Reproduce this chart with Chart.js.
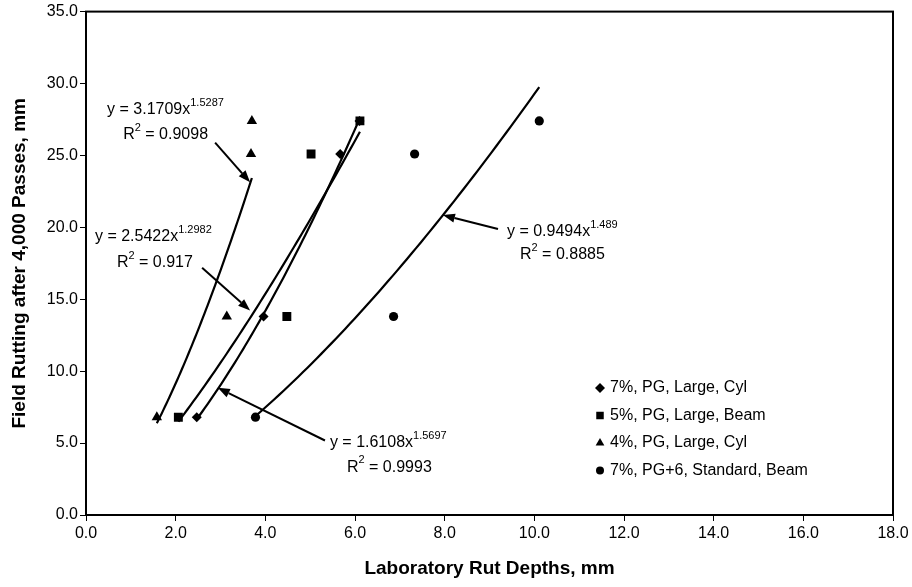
<!DOCTYPE html>
<html><head><meta charset="utf-8">
<script src="https://cdn.jsdelivr.net/npm/chart.js@4/dist/chart.umd.min.js"></script>
<style>html,body{margin:0;padding:0;background:#fff}#wrap{width:912px;height:587px}</style>
</head><body><div id="wrap"><canvas id="c" width="912" height="587"></canvas></div>
<script>
// ---- data ----
const seriesLabels = ['7%, PG, Large, Cyl', '5%, PG, Large, Beam', '4%, PG, Large, Cyl', '7%, PG+6, Standard, Beam'];
const seriesMarkers = ['rectRot', 'rect', 'triangle', 'circle'];
const fieldRutting = [6.8, 13.8, 25.1, 27.4];
const labRut7Cyl = [2.47, 3.96, 5.67, 6.1];
const labRut5Beam = [2.06, 4.48, 5.02, 6.11];
const labRut4Cyl = [1.58, 3.14, 3.68, 3.7];
const labRut7Std = [3.78, 6.86, 7.33, 10.11];
const trendCoef = [1.6108, 2.5422, 3.1709, 0.9494];
const trendExp = ['1.5697', '1.2982', '1.5287', '1.489'];
const trendR2 = ['0.9993', '0.917', '0.9098', '0.8885'];
const xTickValues = [0, 2, 4, 6, 8, 10, 12, 14, 16, 18];
const yTickValues = [0, 5, 10, 15, 20, 25, 30, 35];
const xTitle = 'Laboratory Rut Depths, mm';
const yTitle = 'Field Rutting after 4,000 Passes, mm';

const labSeries = [labRut7Cyl, labRut5Beam, labRut4Cyl, labRut7Std];
const FAM = '"Liberation Sans", Arial, Helvetica, sans-serif';

// annotation placement (data units) for each trend equation
const annotations = [
  { series: 2, eq: [0.47, 28.17], r2: [0.83, 26.44], from: [2.88, 25.89], to: [3.66, 23.13] },
  { series: 1, eq: [0.20, 19.33], r2: [0.69, 17.53], from: [2.59, 17.19], to: [3.66, 14.22] },
  { series: 3, eq: [9.39, 19.67], r2: [9.68, 18.09], from: [9.19, 19.88], to: [7.96, 20.85] },
  { series: 0, eq: [5.44, 5.04], r2: [5.82, 3.31], from: [5.33, 5.18], to: [2.94, 8.84] }
];

const pointRadius = [5, 6.3, 6, 4.6];

const datasets = [];
labSeries.forEach((xs, i) => {
  datasets.push({
    label: seriesLabels[i],
    data: xs.map((x, k) => ({ x: x, y: fieldRutting[k] })),
    pointStyle: seriesMarkers[i],
    pointRadius: pointRadius[i],
    pointHoverRadius: pointRadius[i],
    backgroundColor: '#000',
    borderColor: '#000',
    borderWidth: 0,
    showLine: false,
    order: 1
  });
});
// power trendlines from the equations shown on the chart
labSeries.forEach((xs, i) => {
  const lo = Math.min(...xs), hi = Math.max(...xs);
  const pts = [];
  const n = 60;
  for (let k = 0; k <= n; k++) {
    const x = lo + (hi - lo) * k / n;
    pts.push({ x: x, y: trendCoef[i] * Math.pow(x, parseFloat(trendExp[i])) });
  }
  datasets.push({
    label: 'trend' + i,
    data: pts,
    showLine: true,
    pointRadius: 0,
    borderColor: '#000',
    borderWidth: 2.2,
    tension: 0,
    fill: false,
    order: 2
  });
});

function drawParts(ctx, x, y, parts) {
  let cx = x;
  ctx.textBaseline = 'middle';
  ctx.textAlign = 'left';
  parts.forEach(p => {
    ctx.font = (p.sup ? '11px ' : '16px ') + FAM;
    ctx.fillText(p.t, cx, p.sup ? y - 7 : y);
    cx += ctx.measureText(p.t).width;
  });
}
function arrow(ctx, x1, y1, x2, y2) {
  const ang = Math.atan2(y2 - y1, x2 - x1), L = 12, W = 4.5;
  const bx = x2 - L * Math.cos(ang), by = y2 - L * Math.sin(ang);
  ctx.lineWidth = 2;
  ctx.beginPath(); ctx.moveTo(x1, y1); ctx.lineTo(bx, by); ctx.stroke();
  ctx.beginPath();
  ctx.moveTo(x2, y2);
  ctx.lineTo(bx + W * Math.sin(ang), by - W * Math.cos(ang));
  ctx.lineTo(bx - W * Math.sin(ang), by + W * Math.cos(ang));
  ctx.closePath(); ctx.fill();
}
function marker(ctx, style, x, y, r) {
  ctx.beginPath();
  if (style === 'rectRot') {
    ctx.moveTo(x, y - r); ctx.lineTo(x + r, y); ctx.lineTo(x, y + r); ctx.lineTo(x - r, y);
  } else if (style === 'rect') {
    ctx.rect(x - r * 0.75, y - r * 0.75, r * 1.5, r * 1.5);
  } else if (style === 'triangle') {
    ctx.moveTo(x, y - r); ctx.lineTo(x + r * 0.87, y + r * 0.5); ctx.lineTo(x - r * 0.87, y + r * 0.5);
  } else {
    ctx.arc(x, y, r * 0.8, 0, Math.PI * 2);
  }
  ctx.closePath(); ctx.fill();
}

const decorPlugin = {
  id: 'decor',
  beforeDatasetsDraw(chart) {
    const { ctx, chartArea: a } = chart;
    ctx.save();
    ctx.strokeStyle = '#000'; ctx.lineWidth = 2;
    ctx.strokeRect(a.left, a.top, a.right - a.left, a.bottom - a.top);
    ctx.restore();
  },
  afterDatasetsDraw(chart) {
    const { ctx, chartArea: a, scales: { x, y } } = chart;
    ctx.save();
    ctx.fillStyle = '#000'; ctx.strokeStyle = '#000';
    annotations.forEach(an => {
      const i = an.series;
      drawParts(ctx, x.getPixelForValue(an.eq[0]), y.getPixelForValue(an.eq[1]),
        [{ t: 'y = ' + trendCoef[i].toFixed(4) + 'x' }, { t: trendExp[i], sup: true }]);
      drawParts(ctx, x.getPixelForValue(an.r2[0]), y.getPixelForValue(an.r2[1]),
        [{ t: 'R' }, { t: '2', sup: true }, { t: ' = ' + trendR2[i] }]);
      arrow(ctx, x.getPixelForValue(an.from[0]), y.getPixelForValue(an.from[1]),
        x.getPixelForValue(an.to[0]), y.getPixelForValue(an.to[1]));
    });
    // legend inside plot area, bottom right
    const mx = a.right - 293, tx = a.right - 283;
    const rows = [a.bottom - 127, a.bottom - 99.5, a.bottom - 72, a.bottom - 44.5];
    chart.data.datasets.slice(0, 4).forEach((ds, k) => {
      marker(ctx, ds.pointStyle, mx, rows[k], 5);
      ctx.font = '16px ' + FAM; ctx.textBaseline = 'middle'; ctx.textAlign = 'left';
      ctx.fillText(ds.label, tx, rows[k]);
    });
    ctx.restore();
  }
};

Chart.defaults.font.family = FAM;
Chart.defaults.color = '#000';

new Chart(document.getElementById('c'), {
  type: 'scatter',
  data: { datasets: datasets },
  options: {
    responsive: false,
    devicePixelRatio: 1,
    animation: false,
    layout: { padding: { left: 0, top: 8, right: 19, bottom: 0 } },
    plugins: { legend: { display: false }, tooltip: { enabled: false } },
    scales: {
      x: {
        type: 'linear', min: 0, max: 18,
        afterBuildTicks: s => { s.ticks = xTickValues.map(v => ({ value: v })); },
        afterFit: s => { s.height = 72; },
        ticks: { font: { size: 16 }, color: '#000', padding: 3, maxRotation: 0, autoSkip: false,
          callback: v => Number(v).toFixed(1) },
        grid: { display: true, drawOnChartArea: false, drawTicks: true, tickLength: 6, color: '#000', lineWidth: 1 },
        border: { display: true, color: '#000', width: 2 },
        title: { display: true, text: xTitle, font: { size: 19, weight: 'bold' }, color: '#000', padding: { top: 0, bottom: 7 } }
      },
      y: {
        type: 'linear', min: 0, max: 35,
        afterBuildTicks: s => { s.ticks = yTickValues.map(v => ({ value: v })); },
        afterFit: s => { s.width = 86; },
        ticks: { font: { size: 16 }, color: '#000', padding: 2, autoSkip: false,
          callback: v => Number(v).toFixed(1) },
        grid: { display: true, drawOnChartArea: false, drawTicks: true, tickLength: 6, color: '#000', lineWidth: 1 },
        border: { display: true, color: '#000', width: 2 },
        title: { display: true, text: yTitle, font: { size: 19, weight: 'bold' }, color: '#000', padding: { top: 8, bottom: 0 } }
      }
    }
  },
  plugins: [decorPlugin]
});
</script>
</body></html>
